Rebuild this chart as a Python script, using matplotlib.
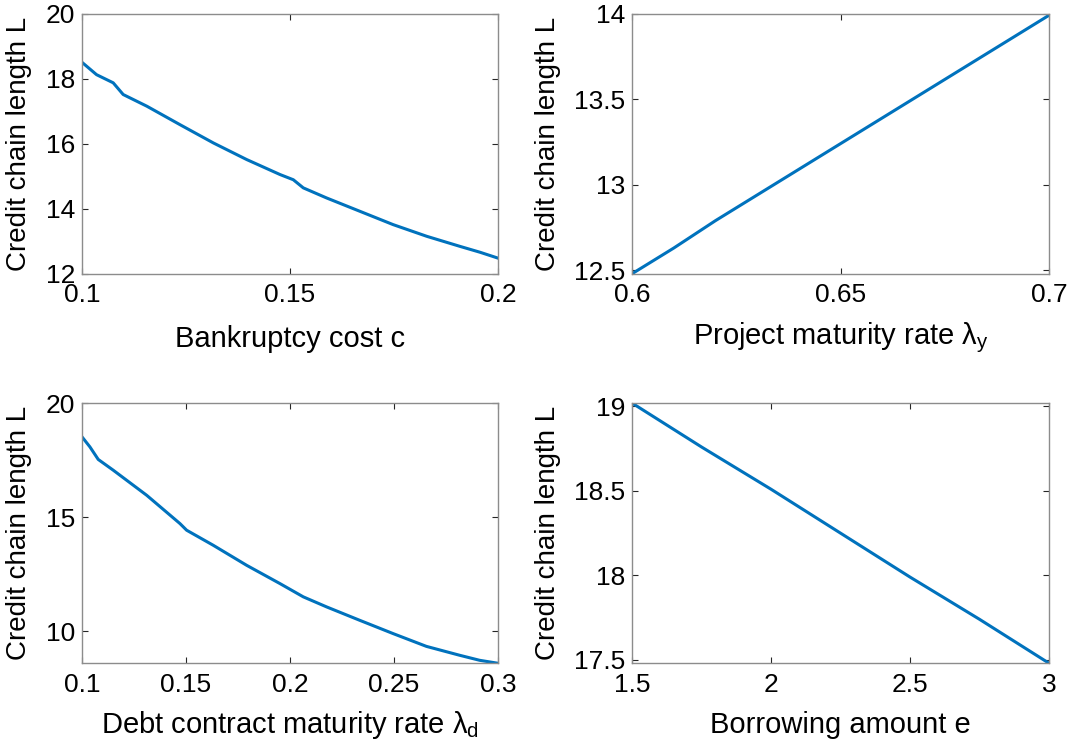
import numpy as np
import matplotlib.pyplot as plt

plt.rcParams['font.family'] = ['Liberation Sans', 'DejaVu Sans']
plt.rcParams['mathtext.fontset'] = 'custom'
plt.rcParams['mathtext.rm'] = 'Liberation Sans'
plt.rcParams['mathtext.it'] = 'Liberation Sans'

# bankruptcy cost c
c_x = [0.1, 0.1035, 0.1075, 0.1099, 0.1156, 0.1236, 0.1316, 0.1396, 0.1476, 0.1508, 0.1532,
       0.1588, 0.1668, 0.1748, 0.1829, 0.1909, 0.1957, 0.2]
c_y = [18.50, 18.12, 17.87, 17.51, 17.15, 16.58, 16.02, 15.51, 15.05, 14.89, 14.64,
       14.33, 13.92, 13.51, 13.15, 12.84, 12.66, 12.48]

# project maturity rate lambda_y
ly_x = [0.6, 0.61, 0.62, 0.63, 0.64, 0.65, 0.66, 0.67, 0.68, 0.69, 0.7]
ly_y = [12.48, 12.63, 12.79, 12.94, 13.09, 13.24, 13.39, 13.54, 13.69, 13.84, 13.99]

# debt contract maturity rate lambda_d
ld_x = [0.1, 0.1038, 0.1078, 0.115, 0.1311, 0.1471, 0.1503, 0.1631, 0.1792, 0.1952, 0.2064,
        0.2176, 0.2336, 0.2496, 0.2656, 0.2816, 0.2912, 0.3]
ld_y = [18.52, 18.08, 17.53, 17.06, 15.96, 14.72, 14.43, 13.77, 12.89, 12.09, 11.51,
        11.07, 10.48, 9.9, 9.34, 8.95, 8.73, 8.6]

# borrowing amount e
e_x = [1.5, 1.75, 2.0, 2.25, 2.5, 2.75, 3.0]
e_y = [19.02, 18.76, 18.51, 18.25, 17.99, 17.74, 17.48]

blue = '#0072BD'
fig = plt.figure(figsize=(10.72, 7.52), dpi=100)

panels = [
    ([0.0765, 0.636, 0.388, 0.346], c_x, c_y, 'Bankruptcy cost c', (0.1, 0.2), (12, 20),
     [0.1, 0.15, 0.2], ['0.1', '0.15', '0.2'], [12, 14, 16, 18, 20], ['12', '14', '16', '18', '20'],
     -0.151, -0.281),
    ([0.5896, 0.636, 0.389, 0.346], ly_x, ly_y, 'Project maturity rate $\\lambda_\\mathrm{y}$', (0.6, 0.7), (12.48, 14.0),
     [0.6, 0.65, 0.7], ['0.6', '0.65', '0.7'], [12.5, 13, 13.5, 14], ['12.5', '13', '13.5', '14'],
     -0.201, -0.27),
    ([0.0765, 0.118, 0.388, 0.346], ld_x, ld_y, 'Debt contract maturity rate $\\lambda_\\mathrm{d}$', (0.1, 0.3), (8.6, 20),
     [0.1, 0.15, 0.2, 0.25, 0.3], ['0.1', '0.15', '0.2', '0.25', '0.3'], [10, 15, 20], ['10', '15', '20'],
     -0.151, -0.269),
    ([0.5896, 0.118, 0.389, 0.346], e_x, e_y, 'Borrowing amount e', (1.5, 3.0), (17.48, 19.02),
     [1.5, 2, 2.5, 3], ['1.5', '2', '2.5', '3'], [17.5, 18, 18.5, 19], ['17.5', '18', '18.5', '19'],
     -0.201, -0.269),
]

for rect, xs, ys, xlab, xl, yl, xt, xtl, yt, ytl, ylx, xly in panels:
    ax = fig.add_axes(rect)
    ax.plot(xs, ys, color=blue, lw=2.2)
    ax.set_xlim(*xl)
    ax.set_ylim(*yl)
    ax.set_xticks(xt)
    ax.set_xticklabels(xtl)
    ax.set_yticks(yt)
    ax.set_yticklabels(ytl)
    ax.tick_params(direction='in', length=4, width=0.8, color='#262626', labelsize=19,
                   top=True, right=True)
    ax.tick_params(axis='x', pad=7)
    ax.tick_params(axis='y', pad=5)
    for s in ax.spines.values():
        s.set_color('#8c8c8c')
        s.set_linewidth(1.0)
    ax.set_xlabel(xlab, fontsize=21, va='baseline')
    ax.xaxis.set_label_coords(0.5, xly)
    ax.set_ylabel('Credit chain length L', fontsize=20, va='center')
    ax.yaxis.set_label_coords(ylx, 0.5)

fig.savefig('out.png', dpi=100)
